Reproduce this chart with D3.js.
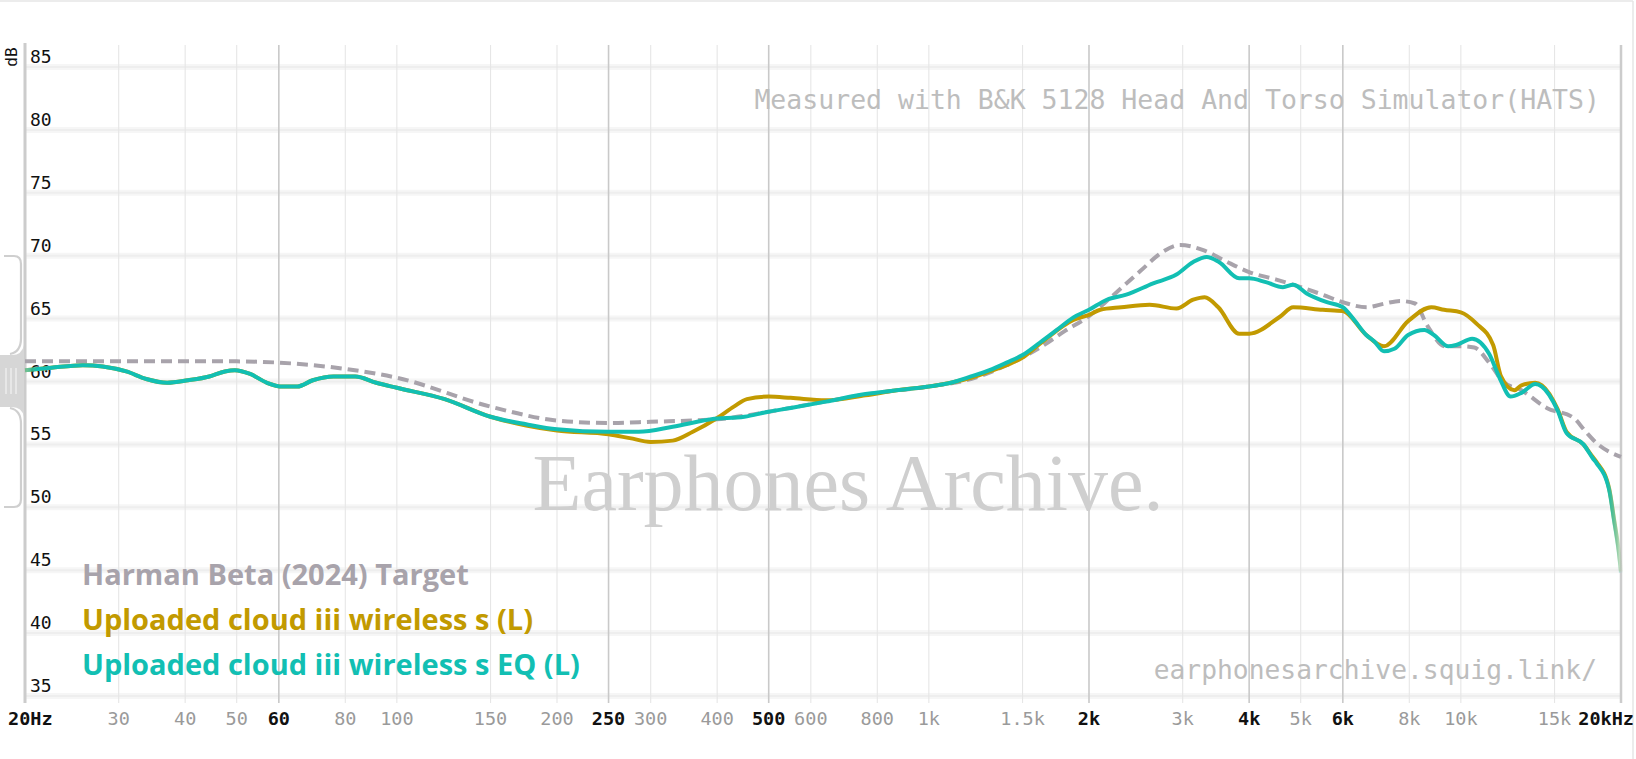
<!DOCTYPE html>
<html>
<head>
<meta charset="utf-8">
<script src="https://cdn.jsdelivr.net/npm/d3@7"></script>
<style>
  html, body { margin: 0; padding: 0; background: #fff; }
  svg { display: block; }
</style>
</head>
<body>
<svg id="chart" width="1636" height="759"></svg>
<script>
// ---------------- DATA ----------------
const yTicks = [35, 40, 45, 50, 55, 60, 65, 70, 75, 80, 85];
const xTickFreqs  = [20, 30, 40, 50, 60, 80, 100, 150, 200, 250, 300, 400, 500, 600, 800, 1000, 1500, 2000, 3000, 4000, 5000, 6000, 8000, 10000, 15000, 20000];
const xTickLabels = ["20Hz", "30", "40", "50", "60", "80", "100", "150", "200", "250", "300", "400", "500", "600", "800", "1k", "1.5k", "2k", "3k", "4k", "5k", "6k", "8k", "10k", "15k", "20kHz"];
const xTickMajor  = [true, false, false, false, true, false, false, false, false, true, false, false, true, false, false, false, false, true, false, true, false, true, false, false, false, true];

const legendNames = ["Harman Beta (2024) Target", "Uploaded cloud iii wireless s (L)", "Uploaded cloud iii wireless s EQ (L)"];

const targetFreq = [20, 30, 50, 60, 80, 100, 150, 200, 250, 300, 400, 500, 600, 800, 1000, 1200, 1400, 1618, 1800, 2000, 2200, 2500, 2750, 2966, 3300, 3600, 4000, 4500, 5000, 5500, 6000, 6650, 7200, 7690, 8200, 8660, 9340, 10000, 10600, 11300, 12000, 13000, 14500, 16300, 17100, 18000, 20000];
const targetDb   = [61.6, 61.6, 61.6, 61.5, 61.0, 60.3, 58.0, 56.9, 56.7, 56.8, 57.0, 57.6, 58.2, 59.1, 59.6, 60.2, 61.3, 62.7, 64.0, 65.2, 66.7, 68.8, 70.3, 70.85, 70.4, 69.6, 68.7, 68.1, 67.5, 66.9, 66.3, 65.9, 66.2, 66.4, 66.2, 64.4, 62.8, 62.8, 62.7, 61.5, 60.0, 59.3, 57.9, 57.1, 56.1, 55.1, 54.0];

const rawFreq = [20, 22.4, 25.7, 28, 31, 33.8, 37, 40.5, 44.4, 47.5, 49.6, 53, 57, 61, 65, 69.5, 76, 83.5, 91.5, 100, 123, 150, 175, 200, 250, 274, 300, 330, 360, 400, 430, 455, 500, 550, 640, 760, 870, 1000, 1100, 1200, 1300, 1400, 1500, 1618, 1870, 2000, 2100, 2300, 2600, 2920, 3140, 3300, 3500, 3830, 4000, 4570, 4840, 5500, 6000, 6640, 7170, 7960, 8800, 9300, 10000, 10700, 11500, 11900, 12600, 13000, 13800, 14200, 15200, 15800, 17000, 17700, 18000, 19000, 19400, 19800, 20000];
const rawDb   = [60.9, 61.1, 61.3, 61.2, 60.8, 60.2, 59.9, 60.1, 60.4, 60.8, 60.9, 60.6, 59.9, 59.6, 59.6, 60.1, 60.4, 60.4, 59.9, 59.5, 58.6, 57.2, 56.5, 56.1, 55.8, 55.5, 55.2, 55.3, 56.0, 57.1, 58.0, 58.6, 58.8, 58.7, 58.5, 58.9, 59.3, 59.6, 59.9, 60.3, 60.8, 61.3, 61.9, 63.0, 64.9, 65.3, 65.7, 65.9, 66.1, 65.8, 66.5, 66.7, 65.9, 63.8, 63.8, 65.15, 65.9, 65.7, 65.6, 63.7, 62.8, 64.8, 65.9, 65.7, 65.5, 64.6, 62.9, 60.4, 59.3, 59.7, 59.9, 59.7, 57.8, 56.0, 55.0, 54.0, 53.6, 51.5, 49.1, 46.6, 44.9];

const eqFreq = [20, 22.4, 25.7, 28, 31, 33.8, 37, 40.5, 44.4, 47.5, 49.6, 53, 57, 61, 65, 69.5, 76, 83.5, 91.5, 100, 123, 150, 175, 200, 250, 285, 330, 390, 450, 500, 550, 640, 760, 870, 1000, 1100, 1200, 1300, 1400, 1500, 1618, 1740, 1870, 2000, 2160, 2350, 2640, 2920, 3140, 3330, 3510, 3830, 4000, 4300, 4630, 4840, 5130, 5600, 6000, 6300, 6640, 6870, 7170, 7500, 7960, 8540, 8900, 9470, 9800, 10500, 11300, 11850, 12400, 13000, 13800, 14200, 15200, 15800, 17000, 17700, 18000, 19000, 19400, 19800, 20000];
const eqDb   = [60.9, 61.1, 61.3, 61.2, 60.8, 60.2, 59.9, 60.1, 60.4, 60.8, 60.9, 60.6, 59.9, 59.6, 59.6, 60.1, 60.4, 60.4, 59.9, 59.5, 58.6, 57.2, 56.6, 56.2, 56.0, 56.0, 56.4, 57.0, 57.2, 57.6, 57.9, 58.4, 59.0, 59.3, 59.6, 59.9, 60.4, 60.9, 61.5, 62.1, 63.1, 64.1, 65.1, 65.7, 66.5, 66.9, 67.8, 68.5, 69.5, 69.9, 69.5, 68.2, 68.2, 67.9, 67.5, 67.7, 67.0, 66.3, 65.9, 64.9, 63.7, 63.2, 62.4, 62.6, 63.7, 64.1, 63.7, 62.8, 62.9, 63.4, 62.2, 60.2, 58.8, 59.1, 59.8, 59.6, 57.7, 55.9, 55.0, 53.9, 53.5, 51.4, 49.0, 46.5, 44.8];

// ---------------- LAYOUT ----------------
const svg = d3.select("#chart");
const W = 1636, H = 759;
const x0 = 25, x1 = 1621;
const plotTop = 45, plotBottom = 703;

const x = d3.scaleLog().domain([20, 20000]).range([x0, x1]);
const y = d3.scaleLinear().domain([35, 85]).range([696, 67]);

const colTarget = "#a8a3ab";
const colRaw = "#c29a00";
const colEq = "#12bfb3";

svg.append("rect").attr("width", W).attr("height", H).attr("fill", "#fff");

// outer frame (top & right)
svg.append("line").attr("x1", 0).attr("x2", 1633).attr("y1", 1).attr("y2", 1).attr("stroke", "#e6e6e6").attr("stroke-width", 1.5);
svg.append("line").attr("x1", 1633).attr("x2", 1633).attr("y1", 1).attr("y2", H).attr("stroke", "#e6e6e6").attr("stroke-width", 1.5);

// horizontal gridlines (soft)
const hg = svg.append("g");
yTicks.forEach(v => {
  hg.append("line").attr("x1", x0).attr("x2", x1).attr("y1", y(v)).attr("y2", y(v))
    .attr("stroke", "#f6f6f6").attr("stroke-width", 6);
  hg.append("line").attr("x1", x0).attr("x2", x1).attr("y1", y(v)).attr("y2", y(v))
    .attr("stroke", "#eeeeee").attr("stroke-width", 2);
});

// vertical gridlines
const vg = svg.append("g");
xTickFreqs.forEach((f, i) => {
  if (i === 0 || i === xTickFreqs.length - 1) return;
  vg.append("line").attr("x1", x(f)).attr("x2", x(f)).attr("y1", plotTop).attr("y2", plotBottom)
    .attr("stroke", xTickMajor[i] ? "#c9c9c9" : "#e6e6e6").attr("stroke-width", xTickMajor[i] ? 1.6 : 1.1);
});

// axis lines
svg.append("line").attr("x1", x0).attr("x2", x0).attr("y1", plotTop - 2).attr("y2", plotBottom).attr("stroke", "#cccccc").attr("stroke-width", 3);
svg.append("line").attr("x1", x1).attr("x2", x1).attr("y1", plotTop).attr("y2", plotBottom).attr("stroke", "#cccccc").attr("stroke-width", 2.5);

// left bracket / grip decoration
const br = svg.append("g");
br.append("path")
  .attr("d", "M4,256 H14 Q21,256 21,264 V338 Q21,352 10,354 M4,507 H14 Q21,507 21,499 V424 Q21,410 10,408")
  .attr("fill", "none").attr("stroke", "#cfcfcf").attr("stroke-width", 2.2);
br.append("path")
  .attr("d", "M0,355 H12 Q22,355 24,345 V417 Q22,407 12,407 H0 Z")
  .attr("fill", "#d6d6d6");
[6, 11, 16].forEach(xx => {
  br.append("line").attr("x1", xx).attr("x2", xx).attr("y1", 368).attr("y2", 394)
    .attr("stroke", "#eeeeee").attr("stroke-width", 1.4);
});

// watermark texts
svg.append("text").attr("x", 848).attr("y", 510).attr("text-anchor", "middle")
  .attr("font-family", "'Liberation Serif', 'DejaVu Serif', serif").attr("font-size", 80)
  .attr("fill", "#cfcfcf").text("Earphones Archive.");
svg.append("text").attr("x", 1600).attr("y", 109).attr("text-anchor", "end")
  .attr("font-family", "'DejaVu Sans Mono', monospace").attr("font-size", 26.5)
  .attr("fill", "#bdbdbd").text("Measured with B&K 5128 Head And Torso Simulator(HATS)");
svg.append("text").attr("x", 1597).attr("y", 679).attr("text-anchor", "end")
  .attr("font-family", "'DejaVu Sans Mono', monospace").attr("font-size", 26.3)
  .attr("fill", "#bdbdbd").text("earphonesarchive.squig.link/");

// y axis labels
const yl = svg.append("g").attr("font-family", "'DejaVu Sans Mono', monospace").attr("font-size", 18).attr("fill", "#111");
yTicks.forEach(v => {
  yl.append("text").attr("x", 30).attr("y", y(v) - 4).text(v);
});
svg.append("text").attr("transform", "translate(17,57) rotate(-90)").attr("text-anchor", "middle")
  .attr("font-family", "'DejaVu Sans Mono', monospace").attr("font-size", 16).attr("fill", "#111").text("dB");

// x axis labels
const xl = svg.append("g").attr("font-family", "'DejaVu Sans Mono', monospace").attr("font-size", 18.5);
xTickFreqs.forEach((f, i) => {
  const t = xl.append("text").attr("y", 725)
    .attr("fill", xTickMajor[i] ? "#111" : "#9a9a9a")
    .attr("font-weight", xTickMajor[i] ? "bold" : "normal")
    .text(xTickLabels[i]);
  if (i === 0) t.attr("x", 8).attr("text-anchor", "start");
  else if (i === xTickFreqs.length - 1) t.attr("x", 1634).attr("text-anchor", "end");
  else t.attr("x", x(f)).attr("text-anchor", "middle");
});

// fade gradient for measurement lines
const defs = svg.append("defs");
function fadeGrad(id, color) {
  const g = defs.append("linearGradient").attr("id", id).attr("gradientUnits", "userSpaceOnUse")
    .attr("x1", x0).attr("x2", x1).attr("y1", 0).attr("y2", 0);
  const span = x1 - x0;
  [[0, 0.45], [12 / span, 1], [(span - 14) / span, 1], [(span - 3) / span, 0.35], [1, 0.05]].forEach(([o, a]) => {
    g.append("stop").attr("offset", o).attr("stop-color", color).attr("stop-opacity", a);
  });
}
fadeGrad("gRaw", colRaw);
fadeGrad("gEq", colEq);

const line = d3.line().x(d => x(d[0])).y(d => y(d[1])).curve(d3.curveMonotoneX);
const zip = (a, b) => a.map((v, i) => [v, b[i]]);

svg.append("path").datum(zip(targetFreq, targetDb)).attr("d", line)
  .attr("fill", "none").attr("stroke", colTarget).attr("stroke-width", 4).attr("stroke-dasharray", "11 6");
svg.append("path").datum(zip(rawFreq, rawDb)).attr("d", line)
  .attr("fill", "none").attr("stroke", "url(#gRaw)").attr("stroke-width", 4).attr("stroke-linejoin", "round");
svg.append("path").datum(zip(eqFreq, eqDb)).attr("d", line)
  .attr("fill", "none").attr("stroke", "url(#gEq)").attr("stroke-width", 4).attr("stroke-linejoin", "round");

// legend
const lg = svg.append("g").attr("font-family", "'Open Sans', 'Noto Sans', sans-serif").attr("font-weight", "bold").attr("font-size", 29);
const legendColors = [colTarget, colRaw, colEq];
legendNames.forEach((n, i) => {
  lg.append("text").attr("x", 82).attr("y", 585 + i * 45).attr("fill", legendColors[i]).text(n);
});
</script>
</body>
</html>
